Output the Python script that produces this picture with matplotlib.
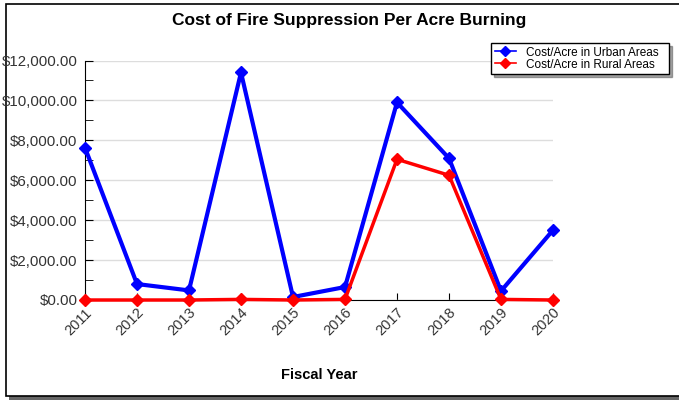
import matplotlib
matplotlib.use("Agg")
import matplotlib.pyplot as plt
from matplotlib.patches import Rectangle
from matplotlib.ticker import MultipleLocator, FuncFormatter

plt.rcParams['font.family'] = ['Liberation Sans', 'DejaVu Sans']

# data
years = [2011, 2012, 2013, 2014, 2015, 2016, 2017, 2018, 2019, 2020]
urban = [7630, 800, 480, 11400, 150, 650, 9900, 7100, 450, 3500]
rural = [0, 0, 0, 30, 0, 30, 7050, 6250, 30, 0]
urban_label = "Cost/Acre in Urban Areas"
rural_label = "Cost/Acre in Rural Areas"

W, H = 679, 400
fig = plt.figure(figsize=(W / 100, H / 100), dpi=100)

# frame with a drop shadow around the whole chart
fig.patches.append(Rectangle((9 / W, 0), 1, 1 - 7 / H, transform=fig.transFigure,
                             facecolor="#666666", edgecolor="none", zorder=-3))
fig.patches.append(Rectangle((6 / W, 4 / H), 1, 1 - 8 / H, transform=fig.transFigure,
                             facecolor="white", edgecolor="black", linewidth=1.2, zorder=-2))

ax = fig.add_axes([85 / W, 100 / H, (553 - 85) / W, (300 - 60.5) / H])
ax.set_facecolor("none")

ax.plot(years, urban, color="#0000ff", lw=3, marker="D", ms=6, clip_on=False,
        label=urban_label, zorder=3)
ax.plot(years, rural, color="#ff0000", lw=2.5, marker="D", ms=6, clip_on=False,
        label=rural_label, zorder=4)

ax.set_xlim(2011, 2020)
ax.set_ylim(0, 12000)
ax.set_xticks(years)
ax.set_xticklabels([str(y) for y in years], rotation=45, ha="right",
                   rotation_mode="anchor", fontsize=10.5, color="#333333")
ax.yaxis.set_major_locator(MultipleLocator(2000))
ax.yaxis.set_minor_locator(MultipleLocator(1000))
ax.yaxis.set_major_formatter(FuncFormatter(lambda v, p: "${:,.2f}".format(v)))
ax.tick_params(axis="y", which="both", direction="in", length=6, labelsize=10.8,
               labelcolor="#333333", pad=5.5)
ax.tick_params(axis="x", direction="in", length=5, pad=4)
ax.grid(axis="y", which="major", color="#dddddd", lw=1)
ax.set_axisbelow(True)
for s in ["top", "right"]:
    ax.spines[s].set_visible(False)

ax.set_xlabel("Fiscal Year", fontsize=10.5, fontweight="bold", labelpad=21)
fig.text(349 / W, 1 - 20 / H, "Cost of Fire Suppression Per Acre Burning",
         ha="center", va="center", fontsize=12.5, fontweight="bold")

leg = fig.legend(loc="upper left",
                 bbox_to_anchor=(491 / W, 1 - 73 / H, (669 - 491) / W, 30 / H),
                 mode="expand", fontsize=8.5, frameon=True, fancybox=False,
                 shadow=True, borderpad=0.3, labelspacing=0.0, handlelength=1.8,
                 handletextpad=0.9, borderaxespad=0)
leg.get_frame().set_edgecolor("black")
leg.get_frame().set_linewidth(1)
for h in leg.legend_handles:
    h.set_linewidth(1.2)
    h.set_markersize(5)

fig.savefig("out.png", dpi=100)
